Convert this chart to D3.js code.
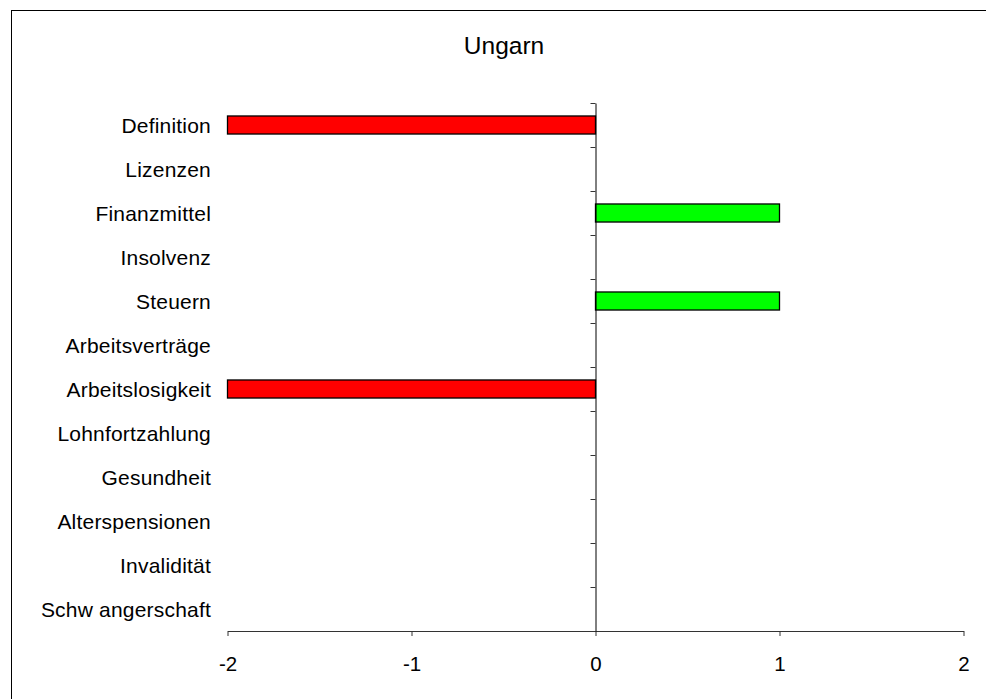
<!DOCTYPE html>
<html>
<head>
<meta charset="utf-8">
<script src="https://cdn.jsdelivr.net/npm/d3@7/dist/d3.min.js"></script>
<style>
  html, body { margin: 0; padding: 0; background: #fff; }
  svg { display: block; font-family: "Liberation Sans", Arial, sans-serif; }
</style>
</head>
<body>
<svg id="chart" width="986" height="699"></svg>
<script>
// Kategorien von oben nach unten
const categories = [
  "Definition", "Lizenzen", "Finanzmittel", "Insolvenz", "Steuern",
  "Arbeitsverträge", "Arbeitslosigkeit", "Lohnfortzahlung", "Gesundheit",
  "Alterspensionen", "Invalidität", "Schw angerschaft"
];
// Bewertung je Kategorie
const values = [-2, 0, 1, 0, 1, 0, -2, 0, 0, 0, 0, 0];
const xTicks = [-2, -1, 0, 1, 2];
const title = "Ungarn";

const svg = d3.select("#chart");

// Rahmen des Diagrammbereichs
svg.append("rect")
  .attr("x", 11.5).attr("y", 10.5)
  .attr("width", 1000).attr("height", 1000)
  .attr("fill", "none").attr("stroke", "#000").attr("stroke-width", 1);

const x = d3.scaleLinear().domain([-2, 2]).range([227.5, 963.5]);
const y = d3.scaleBand().domain(categories).range([103, 631])
  .paddingInner(0.59).paddingOuter(0.295);
const yIdx = d3.scaleLinear().domain([0, categories.length]).range([103, 631]);

// Titel
svg.append("text")
  .attr("x", 504).attr("y", 54)
  .attr("text-anchor", "middle")
  .attr("font-size", 24.5)
  .text(title);

// Balken
const data = categories.map((c, i) => ({ c, v: values[i] })).filter(d => d.v !== 0);
svg.append("g").selectAll("rect").data(data).join("rect")
  .attr("x", d => Math.min(x(0), x(d.v)))
  .attr("y", d => y(d.c))
  .attr("width", d => Math.abs(x(d.v) - x(0)))
  .attr("height", y.bandwidth())
  .attr("fill", d => d.v < 0 ? "#ff0000" : "#00ff00")
  .attr("stroke", "#000").attr("stroke-width", 1.3);

// x-Achse
const xAxis = svg.append("g")
  .attr("transform", "translate(0,631)")
  .call(d3.axisBottom(x).tickValues(xTicks).tickFormat(d => String(d))
    .tickSize(5).tickSizeOuter(0));
xAxis.select(".domain").attr("stroke", "#333");
xAxis.selectAll(".tick line").attr("stroke", "#333");
xAxis.selectAll(".tick text")
  .attr("font-size", 20.5).attr("fill", "#000")
  .attr("font-family", "Liberation Sans, Arial, sans-serif")
  .attr("dy", null).attr("y", 39.5);

// y-Achse bei 0 mit Teilstrichen zwischen den Kategorien
const yAxis = svg.append("g")
  .attr("transform", `translate(${x(0)},0)`)
  .call(d3.axisLeft(yIdx).tickValues(d3.range(categories.length + 1))
    .tickFormat("").tickSize(5).tickSizeOuter(0));
yAxis.select(".domain").attr("stroke", "#000");
yAxis.selectAll(".tick line").attr("stroke", "#333");

// Kategorienbeschriftung
svg.append("g").selectAll("text").data(categories).join("text")
  .attr("x", 211)
  .attr("y", d => y(d) + y.bandwidth() / 2 + 8)
  .attr("text-anchor", "end")
  .attr("font-size", 21)
  .attr("letter-spacing", 0.2)
  .text(d => d);
</script>
</body>
</html>
